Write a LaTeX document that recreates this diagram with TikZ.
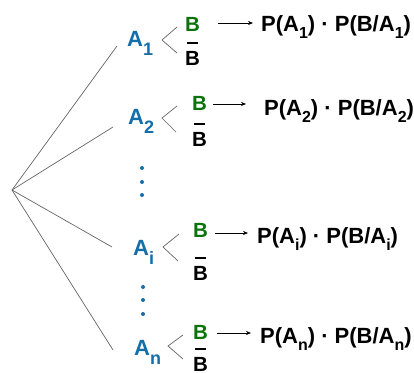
\documentclass[tikz,border=0pt]{standalone}
\usepackage{fontspec}
\setmainfont{Liberation Sans}
\usetikzlibrary{arrows.meta}
\definecolor{ablue}{RGB}{20,110,170}
\definecolor{bgreen}{RGB}{10,115,10}
\definecolor{lgray}{RGB}{100,100,100}
\newcommand{\asub}[1]{\raisebox{-9pt}{\fontsize{18}{18}\selectfont #1}}
\newcommand{\psub}[1]{\raisebox{-7pt}{\fontsize{16}{16}\selectfont #1}}
\newcommand{\bbar}{\makebox[0pt][l]{\hspace{2pt}\raisebox{21pt}{\rule{10.5pt}{2.2pt}}}B}
\tikzset{
  alab/.style={anchor=base west, inner sep=0pt, text=ablue, font=\bfseries\fontsize{22}{26}\selectfont},
  blab/.style={anchor=base west, inner sep=0pt, font=\bfseries\fontsize{20.5}{23}\selectfont},
  glab/.style={blab, text=bgreen},
  plab/.style={anchor=base west, inner sep=0pt, font=\bfseries\fontsize{22}{26}\selectfont},
  branch/.style={draw=lgray, line width=0.7pt},
  fork/.style={draw=lgray, line width=0.7pt},
  arr/.style={draw=black, line width=0.6pt, -{Stealth[length=5pt,width=4pt]}},
  vdot/.style={fill=ablue, draw=none},
}
\begin{document}
\begin{tikzpicture}[x=1pt,y=-1pt]
\useasboundingbox (0,0) rectangle (414,372);
% root
\coordinate (R) at (12,190);
% A nodes
\node[alab] (A1) at (127,46) {A\asub{1}};
\node[alab] (A2) at (128,124) {A\asub{2}};
\node[alab] (Ai) at (133,255) {A\asub{i}};
\node[alab] (An) at (134,355) {A\asub{n}};
% line ends near A nodes
\coordinate (e1) at (117,46);
\coordinate (e2) at (113,127);
\coordinate (ei) at (112,247);
\coordinate (en) at (113,350);
\draw[branch] (R) -- (e1);
\draw[branch] (R) -- (e2);
\draw[branch] (R) -- (ei);
\draw[branch] (R) -- (en);
% B nodes
\node[glab] (B1) at (185,31) {B};
\node[blab] (C1) at (185,65) {\bbar};
\node[glab] (B2) at (192,110) {B};
\node[blab] (C2) at (192,146) {\bbar};
\node[glab] (Bi) at (193,237) {B};
\node[blab] (Ci) at (193,280) {\bbar};
\node[glab] (Bn) at (193,339) {B};
\node[blab] (Cn) at (193,371) {\bbar};
% forks
\coordinate (f1t) at (177,27); \coordinate (f1v) at (162,40); \coordinate (f1b) at (177,53);
\coordinate (f2t) at (177,106); \coordinate (f2v) at (162,118); \coordinate (f2b) at (176,132);
\coordinate (fit) at (179,234); \coordinate (fiv) at (163,247); \coordinate (fib) at (178,261);
\coordinate (fnt) at (183,335); \coordinate (fnv) at (168,346); \coordinate (fnb) at (183,359);
\draw[fork] (f1t) -- (f1v) -- (f1b);
\draw[fork] (f2t) -- (f2v) -- (f2b);
\draw[fork] (fit) -- (fiv) -- (fib);
\draw[fork] (fnt) -- (fnv) -- (fnb);
% products
\node[plab] (P1) at (261,31) {P(A\psub{1}) · P(B/A\psub{1})};
\node[plab] (P2) at (264,115) {P(A\psub{2}) · P(B/A\psub{2})};
\node[plab] (Pi) at (257,243) {P(A\psub{i}) · P(B/A\psub{i})};
\node[plab] (Pn) at (260,343) {P(A\psub{n}) · P(B/A\psub{n})};
% arrows
\coordinate (s1) at (218,23); \coordinate (t1) at (253,23);
\coordinate (s2) at (213,104); \coordinate (t2) at (246,104);
\coordinate (si) at (215,233); \coordinate (ti) at (248,233);
\coordinate (sn) at (217,333); \coordinate (tn) at (251,333);
\draw[arr] (s1) -- (t1);
\draw[arr] (s2) -- (t2);
\draw[arr] (si) -- (ti);
\draw[arr] (sn) -- (tn);
% dots
\foreach \y in {168,182,195} \fill[vdot] (142,\y) circle (2);
\foreach \y in {287,300,314} \fill[vdot] (143,\y) circle (2);
\end{tikzpicture}
\end{document}
